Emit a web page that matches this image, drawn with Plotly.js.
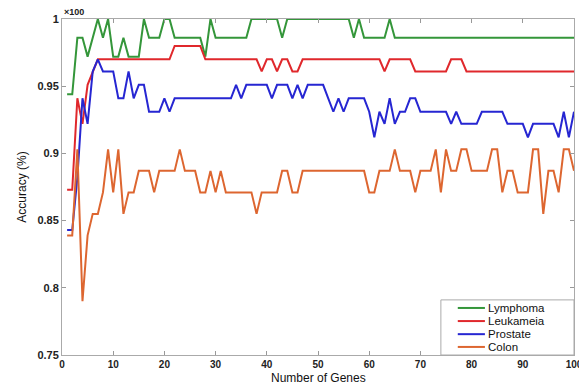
<!DOCTYPE html>
<html>
<head>
<meta charset="utf-8">
<script src="https://cdn.plot.ly/plotly-3.0.1.min.js"></script>
<style>
  html, body { margin: 0; padding: 0; background: #fff; }
  #chart { width: 579px; height: 385px; }
</style>
</head>
<body>
<div id="chart"></div>
<script>
// Number of genes (x)
const genes = Array.from({length: 100}, (_, i) => i + 1);

const seriesNames = ["Lymphoma", "Leukameia", "Prostate", "Colon"];

// Lymphoma accuracy (x100)
const lymphoma = [
  0.944, 0.944, 0.986, 0.986, 0.972, 0.986, 1.000, 0.986, 1.000, 0.972,
  0.972, 0.986, 0.972, 0.972, 0.972, 1.000, 0.986, 0.986, 0.986, 1.000,
  1.000, 0.986, 0.986, 0.986, 0.986, 0.986, 0.986, 0.972, 1.000, 0.986,
  0.986, 0.986, 0.986, 0.986, 0.986, 0.986, 1.000, 1.000, 1.000, 1.000,
  1.000, 1.000, 0.986, 1.000, 1.000, 1.000, 1.000, 1.000, 1.000, 1.000,
  1.000, 1.000, 1.000, 1.000, 1.000, 1.000, 0.986, 1.000, 0.986, 0.986,
  0.986, 0.986, 0.986, 1.000, 0.986, 0.986, 0.986, 0.986, 0.986, 0.986,
  0.986, 0.986, 0.986, 0.986, 0.986, 0.986, 0.986, 0.986, 0.986, 0.986,
  0.986, 0.986, 0.986, 0.986, 0.986, 0.986, 0.986, 0.986, 0.986, 0.986,
  0.986, 0.986, 0.986, 0.986, 0.986, 0.986, 0.986, 0.986, 0.986, 0.986
];

// Leukameia accuracy (x100)
const leukameia = [
  0.873, 0.873, 0.941, 0.922, 0.951, 0.961, 0.970, 0.970, 0.970, 0.970,
  0.970, 0.970, 0.970, 0.970, 0.970, 0.970, 0.970, 0.970, 0.970, 0.970,
  0.970, 0.980, 0.980, 0.980, 0.980, 0.980, 0.980, 0.970, 0.970, 0.970,
  0.970, 0.970, 0.970, 0.970, 0.970, 0.970, 0.970, 0.970, 0.961, 0.970,
  0.970, 0.961, 0.970, 0.970, 0.961, 0.961, 0.970, 0.970, 0.970, 0.970,
  0.970, 0.970, 0.970, 0.970, 0.970, 0.970, 0.970, 0.970, 0.970, 0.970,
  0.970, 0.970, 0.961, 0.970, 0.970, 0.970, 0.970, 0.970, 0.961, 0.961,
  0.961, 0.961, 0.961, 0.961, 0.961, 0.970, 0.970, 0.970, 0.961, 0.961,
  0.961, 0.961, 0.961, 0.961, 0.961, 0.961, 0.961, 0.961, 0.961, 0.961,
  0.961, 0.961, 0.961, 0.961, 0.961, 0.961, 0.961, 0.961, 0.961, 0.961
];

// Prostate accuracy (x100)
const prostate = [
  0.843, 0.843, 0.882, 0.941, 0.922, 0.961, 0.970, 0.961, 0.961, 0.961,
  0.941, 0.941, 0.961, 0.941, 0.951, 0.951, 0.931, 0.931, 0.931, 0.941,
  0.931, 0.941, 0.941, 0.941, 0.941, 0.941, 0.941, 0.941, 0.941, 0.941,
  0.941, 0.941, 0.941, 0.951, 0.941, 0.951, 0.951, 0.951, 0.951, 0.951,
  0.941, 0.951, 0.951, 0.951, 0.941, 0.951, 0.941, 0.951, 0.951, 0.951,
  0.951, 0.941, 0.931, 0.941, 0.931, 0.941, 0.941, 0.941, 0.941, 0.931,
  0.912, 0.931, 0.922, 0.941, 0.922, 0.931, 0.931, 0.941, 0.941, 0.931,
  0.931, 0.931, 0.931, 0.931, 0.931, 0.922, 0.931, 0.922, 0.922, 0.922,
  0.922, 0.931, 0.931, 0.931, 0.931, 0.931, 0.922, 0.922, 0.922, 0.922,
  0.912, 0.922, 0.922, 0.922, 0.922, 0.922, 0.912, 0.931, 0.912, 0.931
];

// Colon accuracy (x100)
const colon = [
  0.839, 0.839, 0.903, 0.790, 0.839, 0.855, 0.855, 0.871, 0.903, 0.871,
  0.903, 0.855, 0.871, 0.871, 0.887, 0.887, 0.887, 0.871, 0.887, 0.887,
  0.887, 0.887, 0.903, 0.887, 0.887, 0.887, 0.871, 0.871, 0.887, 0.871,
  0.887, 0.871, 0.871, 0.871, 0.871, 0.871, 0.871, 0.855, 0.871, 0.871,
  0.871, 0.871, 0.887, 0.887, 0.871, 0.871, 0.887, 0.887, 0.887, 0.887,
  0.887, 0.887, 0.887, 0.887, 0.887, 0.887, 0.887, 0.887, 0.887, 0.871,
  0.871, 0.887, 0.887, 0.887, 0.903, 0.887, 0.887, 0.887, 0.871, 0.887,
  0.887, 0.887, 0.903, 0.871, 0.903, 0.887, 0.887, 0.903, 0.903, 0.887,
  0.887, 0.887, 0.887, 0.903, 0.903, 0.871, 0.887, 0.887, 0.871, 0.871,
  0.871, 0.903, 0.903, 0.855, 0.887, 0.887, 0.871, 0.903, 0.903, 0.887
];

const xTicks = [0, 10, 20, 30, 40, 50, 60, 70, 80, 90, 100];
const xTickLabels = ["0", "10", "20", "30", "40", "50", "60", "70", "80", "90", "100"];
const yTicks = [0.75, 0.8, 0.85, 0.9, 0.95, 1];
const yTickLabels = ["0.75", "0.8", "0.85", "0.9", "0.95", "1"];

const colors = ["#34963a", "#e0282c", "#2626d2", "#dd6630"];
const allSeries = [lymphoma, leukameia, prostate, colon];

const traces = allSeries.map((ys, i) => ({
  x: genes,
  y: ys,
  type: "scatter",
  mode: "lines",
  name: seriesNames[i],
  showlegend: false,
  line: { color: colors[i], width: 2 }
}));

const fontFam = "Liberation Sans, Arial, sans-serif";

// Legend box drawn in paper coordinates (MATLAB-style compact legend)
const legX0 = 0.740, legX1 = 1.0, legY0 = 0.0, legY1 = 0.164;
const legRows = [0.140, 0.101, 0.062, 0.024];
const shapes = [{
  type: "rect", xref: "paper", yref: "paper",
  x0: legX0, x1: legX1, y0: legY0, y1: legY1,
  fillcolor: "#ffffff", line: { color: "#aaaaaa", width: 1 }, layer: "above"
}];
const annotations = [];
seriesNames.forEach((nm, i) => {
  shapes.push({
    type: "line", xref: "paper", yref: "paper",
    x0: 0.773, x1: 0.826, y0: legRows[i], y1: legRows[i],
    line: { color: colors[i], width: 2 }, layer: "above"
  });
  annotations.push({
    text: nm, xref: "paper", yref: "paper",
    x: 0.829, y: legRows[i], xanchor: "left", yanchor: "middle",
    showarrow: false,
    font: { family: fontFam, size: 11.5, color: "#111" }
  });
});
annotations.push({
  text: "×100",
  xref: "paper", yref: "paper",
  x: 0, y: 1,
  xanchor: "left", yanchor: "bottom",
  showarrow: false,
  font: { family: fontFam, size: 9, color: "#222", weight: "bold" }
});
annotations.push({
  text: "Number of Genes",
  xref: "paper", yref: "paper",
  x: 0.5, y: -0.067,
  xanchor: "center", yanchor: "middle",
  showarrow: false,
  font: { family: fontFam, size: 12, color: "#111" }
});

const layout = {
  width: 579,
  height: 385,
  margin: { l: 62, r: 5, t: 19, b: 30 },
  paper_bgcolor: "#ffffff",
  plot_bgcolor: "#ffffff",
  showlegend: false,
  xaxis: {
    range: [0, 100],
    tickvals: xTicks,
    ticktext: xTickLabels,
    ticks: "inside",
    ticklen: 4,
    tickcolor: "#999",
    showgrid: false,
    zeroline: false,
    showline: true,
    linecolor: "#aaaaaa",
    linewidth: 1,
    mirror: "ticks",
    ticklabeloverflow: "allow",
    ticklabelstandoff: 0,
    automargin: false,
    tickfont: { family: fontFam, size: 10, color: "#222", weight: "bold" }
  },
  yaxis: {
    range: [0.75, 1],
    tickvals: yTicks,
    ticktext: yTickLabels,
    ticks: "inside",
    ticklen: 4,
    tickcolor: "#999",
    showgrid: false,
    zeroline: false,
    showline: true,
    linecolor: "#aaaaaa",
    linewidth: 1,
    mirror: "ticks",
    ticklabeloverflow: "allow",
    automargin: false,
    tickfont: { family: fontFam, size: 11, color: "#222", weight: "bold" },
    title: { text: "Accuracy (%)", font: { family: fontFam, size: 12, color: "#111" }, standoff: 8 }
  },
  shapes: shapes,
  annotations: annotations
};

Plotly.newPlot("chart", traces, layout, { displayModeBar: false, staticPlot: true });
</script>
</body>
</html>
